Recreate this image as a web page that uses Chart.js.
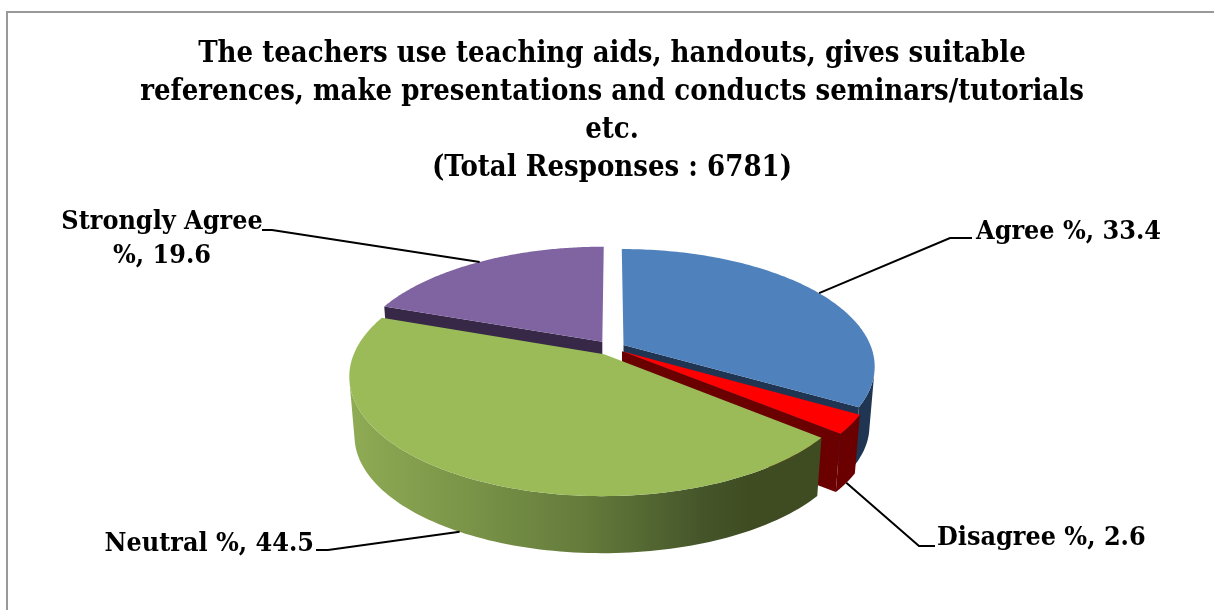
<!DOCTYPE html>
<html><head><meta charset="utf-8">
<style>html,body{margin:0;padding:0;background:#fff;overflow:hidden}#w{position:relative;width:1214px;height:610px}</style>
<script src="https://cdn.jsdelivr.net/npm/chart.js@4/dist/chart.umd.min.js"></script>
</head><body><div id="w"><canvas id="c" width="1214" height="610"></canvas></div>
<script>
const categories = ["Agree %", "Disagree %", "Neutral %", "Strongly Agree %"];
const values = [33.4, 2.6, 44.5, 19.6];
const titleLines = [
  "The teachers use teaching aids, handouts, gives suitable",
  "references, make presentations and conducts seminars/tutorials",
  "etc.",
  "(Total Responses : 6781)"
];
const topColors = ["#4f81bd", "#ff0000", "#9bbb59", "#8064a2"];
const sideColors = ["#1f3552", "#6b0000", null, "#362846"];
const explode = [11, 10, 13, 14];
const labelLines = [
  ["Agree %, 33.4"],
  ["Disagree %, 2.6"],
  ["Neutral %, 44.5"],
  ["Strongly Agree", "%, 19.6"]
];

const FONT = '"DejaVu Serif Condensed", "DejaVu Serif", serif';
const view = {cx:612, cy:348, rx:248, ry:114, k:0.178, s:0.98, dz:60};
const labelCfg = [
  {x:976, y:232, align:'left', elbow:[[950,238],[972,238]], anchor:'top'},
  {x:937, y:538, align:'left', elbow:[[919,546],[935,546]], anchor:'bottom'},
  {x:314, y:544, align:'right', elbow:[[328,550],[316,550]], anchor:'bottom'},
  {x:162, y:222, align:'center', elbow:[[272,230],[262,230]], anchor:'top'}
];

function proj(u, v, low){
  const w = 1 - view.k*v;
  let x = view.rx*u/w, y = view.ry*v/w;
  if(low){ x *= view.s; y = y*view.s + view.dz; }
  return [view.cx + x, view.cy + y];
}
function slicePt(el, a, r, low){
  const off = el.options.offset/el.outerRadius, m = (el.startAngle+el.endAngle)/2;
  return proj(r*Math.cos(a)+off*Math.cos(m), r*Math.sin(a)+off*Math.sin(m), low);
}
function poly(ctx, pts, fill){
  ctx.beginPath();
  pts.forEach((p,i)=> i?ctx.lineTo(p[0],p[1]):ctx.moveTo(p[0],p[1]));
  ctx.closePath(); ctx.fillStyle = fill; ctx.fill();
}
function arcAngles(el){
  const n = 120, out = [];
  for(let i=0;i<=n;i++){ out.push(el.startAngle+(el.endAngle-el.startAngle)*i/n); }
  return out;
}
function greenSide(ctx){
  const g = ctx.createLinearGradient(350,0,820,0);
  g.addColorStop(0,'#8fab54');g.addColorStop(0.25,'#7a9448');g.addColorStop(0.5,'#647b3b');
  g.addColorStop(0.75,'#45552a');g.addColorStop(0.85,'#3f4c22');g.addColorStop(1,'#3f4c22');
  return g;
}
const pie3d = {
  id:'pie3d',
  beforeDatasetsDraw(chart){
    const ctx = chart.ctx, els = chart.getDatasetMeta(0).data;
    ctx.save();
    [3,0,1,2].forEach(i=>{
      const el = els[i], side = sideColors[i] || greenSide(ctx);
      const c0 = slicePt(el,0,0,false), c1 = slicePt(el,0,0,true);
      const wall = a => poly(ctx,[c0,slicePt(el,a,1,false),slicePt(el,a,1,true),c1],side);
      if(-Math.cos(el.startAngle) > 1e-6) wall(el.startAngle);
      if(Math.cos(el.endAngle) > 1e-6) wall(el.endAngle);
      const angles = arcAngles(el);
      const front = angles.filter(a=>Math.sin(a) >= 0.2);
      if(front.length > 1){
        poly(ctx, front.map(a=>slicePt(el,a,1,false)).concat(front.slice().reverse().map(a=>slicePt(el,a,1,true))), side);
      }
      poly(ctx, [c0].concat(angles.map(a=>slicePt(el,a,1,false))), topColors[i]);
    });
    ctx.restore();
    return false;
  },
  afterDraw(chart){
    const ctx = chart.ctx, els = chart.getDatasetMeta(0).data;
    ctx.save();
    ctx.strokeStyle='#000'; ctx.lineWidth=2; ctx.fillStyle='#000';
    ctx.font='bold 26.7px '+FONT; ctx.textBaseline='middle';
    labelCfg.forEach((c,i)=>{
      const el = els[i], m=(el.startAngle+el.endAngle)/2;
      const a = slicePt(el,m,1,c.anchor==='bottom');
      ctx.beginPath(); ctx.moveTo(a[0],a[1]);
      c.elbow.forEach(p=>ctx.lineTo(p[0],p[1])); ctx.stroke();
      ctx.textAlign=c.align;
      labelLines[i].forEach((t,j)=>ctx.fillText(t,c.x,c.y+j*34));
    });
    ctx.strokeStyle='#999'; ctx.beginPath();
    ctx.moveTo(7,610);ctx.lineTo(7,12);ctx.lineTo(1214,12);ctx.stroke();
    ctx.restore();
  }
};
new Chart(document.getElementById('c'),{
  type:'pie',
  data:{labels:categories,datasets:[{data:values,backgroundColor:topColors,offset:explode,borderWidth:0}]},
  plugins:[pie3d],
  options:{
    responsive:false,animation:false,
    layout:{padding:{left:10}},
    plugins:{
      legend:{display:false},tooltip:{enabled:false},
      title:{display:true,text:titleLines,color:'#000',align:'center',
        padding:{top:35,bottom:0},font:{family:FONT,size:29,weight:'bold',lineHeight:38/29}}
    }
  }
});
</script></body></html>
